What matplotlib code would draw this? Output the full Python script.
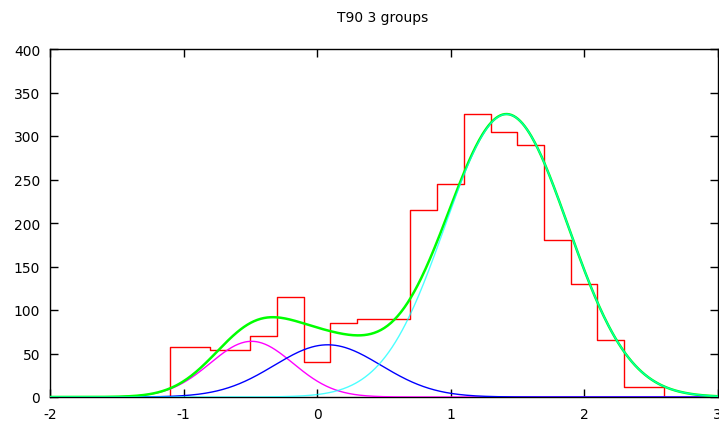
import numpy as np
import matplotlib
matplotlib.use("Agg")
import matplotlib.pyplot as plt

plt.rcParams["axes.unicode_minus"] = False

# histogram of log T90 (step outline)
bin_edges = [-1.1, -0.8, -0.5, -0.3, -0.1, 0.1, 0.3, 0.7, 0.9, 1.1,
             1.3, 1.5, 1.7, 1.9, 2.1, 2.3, 2.6]
counts = [57, 54, 70, 115, 40, 85, 90, 215, 245, 325,
          305, 290, 180, 130, 65, 12]

# fitted gaussian components: amplitude, mean, sigma
amps = [64, 60, 325]
means = [-0.49, 0.08, 1.42]
sigmas = [0.31, 0.40, 0.46]
comp_colors = ["#ff00ff", "#0000ff", "#00ffff"]

x_ticks = [-2, -1, 0, 1, 2, 3]
y_ticks = [0, 50, 100, 150, 200, 250, 300, 350, 400]

fig = plt.figure(figsize=(7.19, 4.31), dpi=100, facecolor="white")
ax = fig.add_axes([50 / 719, 1 - 398 / 431, 667.5 / 719, 348 / 431])

# step outline of the histogram
sx = [bin_edges[0]]
sy = [0]
for i, c in enumerate(counts):
    sx += [bin_edges[i], bin_edges[i + 1]]
    sy += [c, c]
sx.append(bin_edges[-1])
sy.append(0)
ax.plot(sx, sy, color="#ff0000", linewidth=1.0, zorder=2)

xs = np.linspace(-2, 3, 600)
comps = []
for a, m, s in zip(amps, means, sigmas):
    comps.append(a * np.exp(-(xs - m) ** 2 / (2 * s ** 2)))
total = np.sum(comps, axis=0)

for yv, col in zip(comps[:2], comp_colors[:2]):
    ax.plot(xs, yv, color=col, linewidth=1.0, zorder=3)
ax.plot(xs, total, color="#00ff00", linewidth=1.8, zorder=3)
ax.plot(xs, comps[2], color=comp_colors[2], linewidth=1.0, alpha=0.7, zorder=4)

ax.set_xlim(-2, 3)
ax.set_ylim(0, 400)
ax.set_xticks(x_ticks)
ax.set_yticks(y_ticks)
ax.tick_params(direction="in", length=6, width=1, top=True, right=True,
               labelsize=10, colors="black", pad=7)
for spine in ax.spines.values():
    spine.set_color("black")
    spine.set_linewidth(1.0)

fig.text(383 / 719, 1 - 18 / 431, "T90 3 groups", ha="center", va="center",
         fontsize=10)

fig.savefig("out.png", dpi=100, facecolor="white")
